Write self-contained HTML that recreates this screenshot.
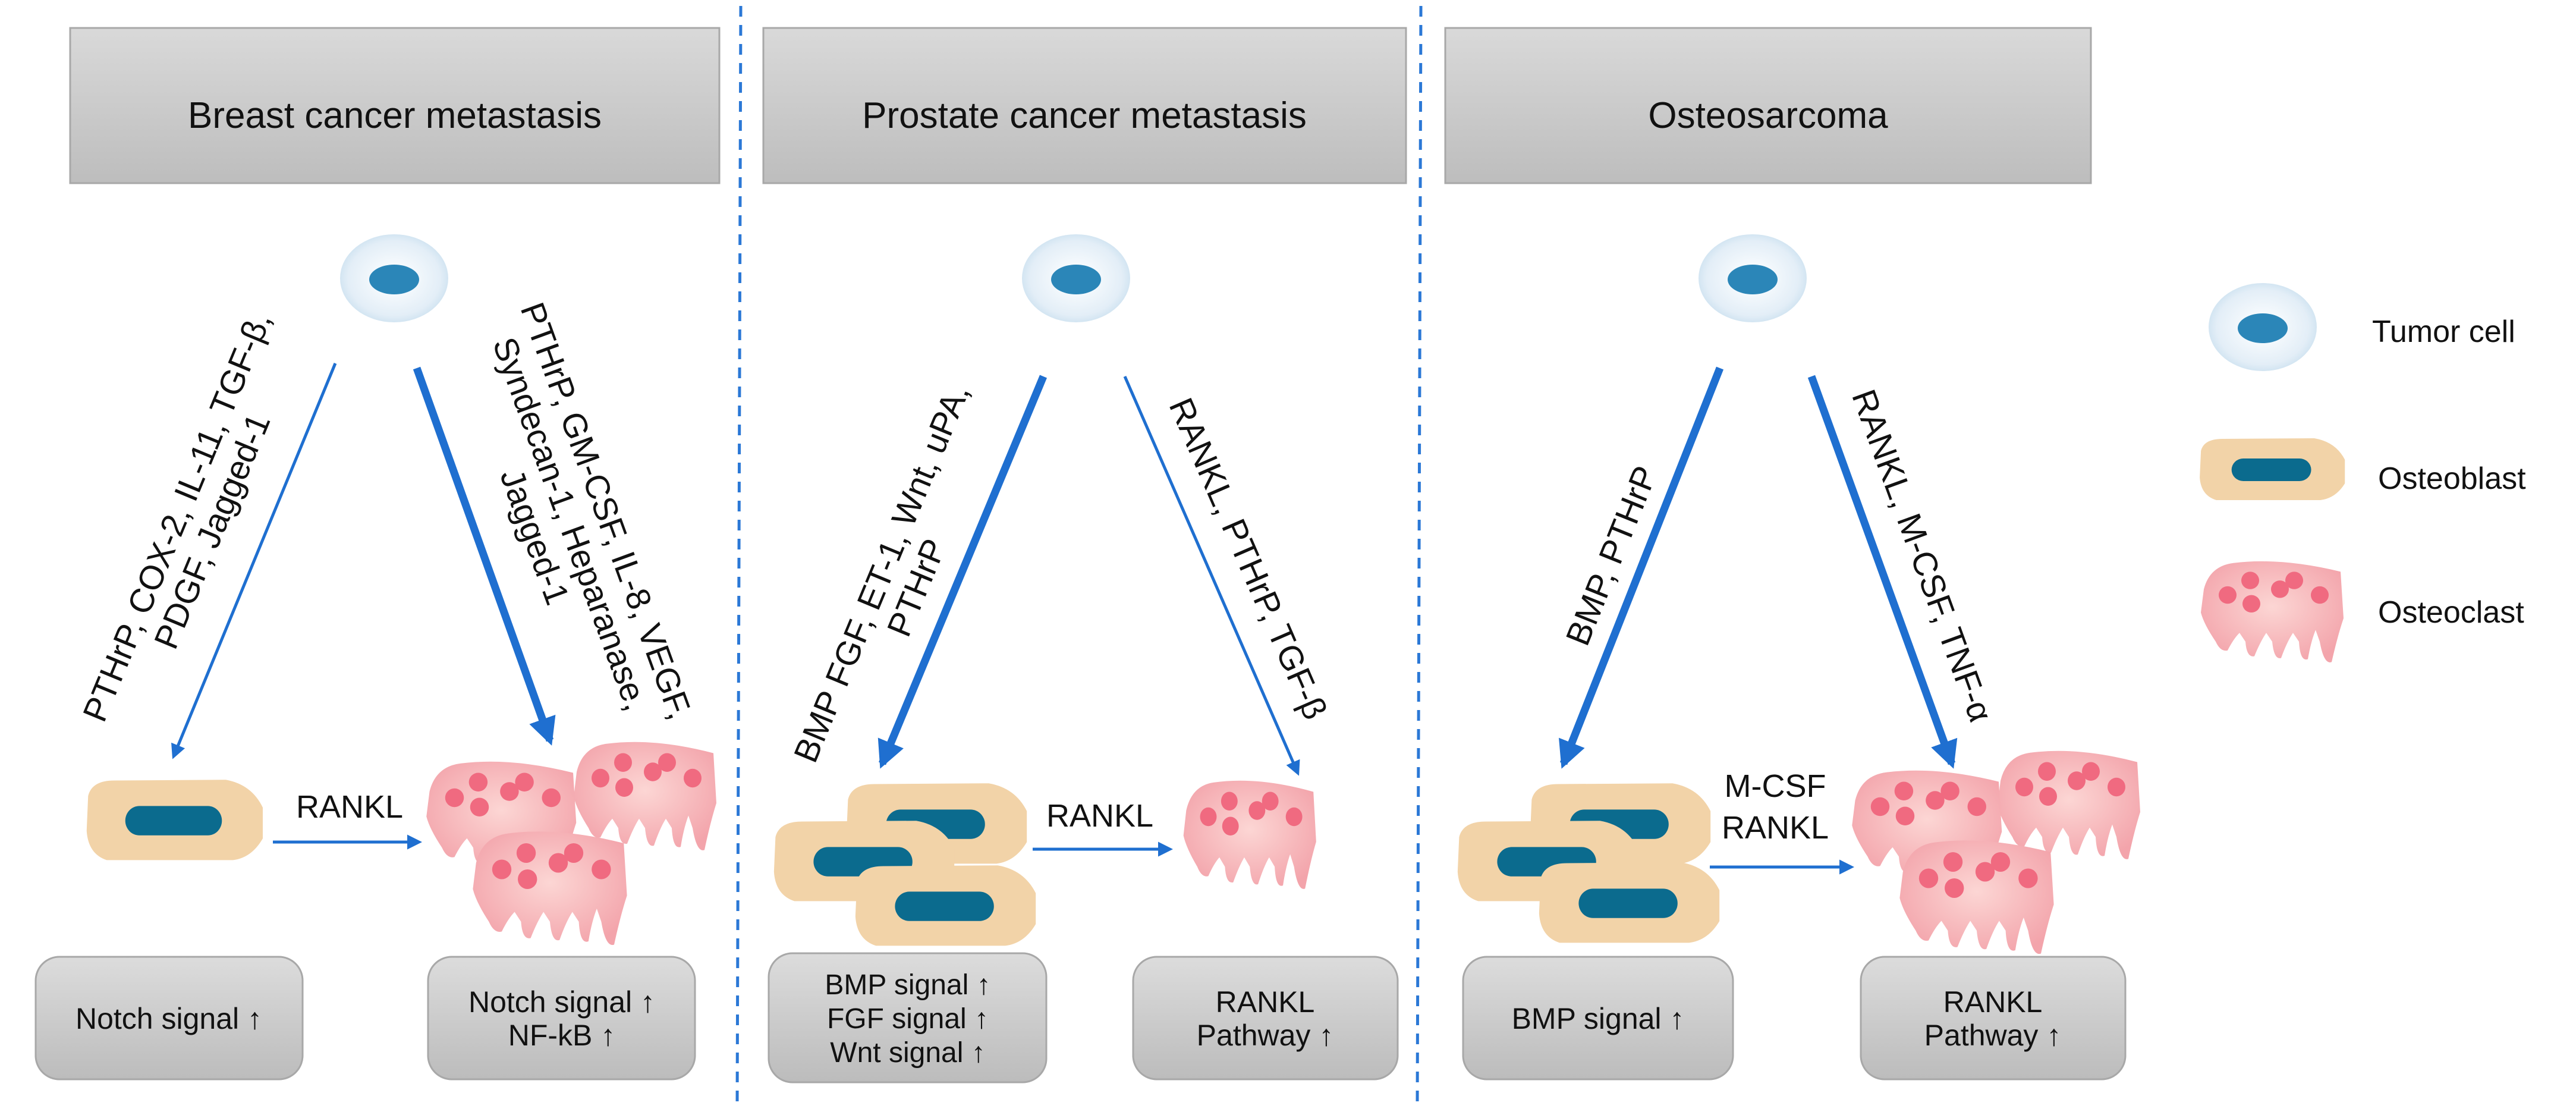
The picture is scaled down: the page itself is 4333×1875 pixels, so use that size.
<!DOCTYPE html>
<html><head><meta charset="utf-8"><style>
html,body{margin:0;padding:0;background:#fff}
svg{display:block}
text{font-family:"Liberation Sans",sans-serif;fill:#111}
</style></head><body>
<svg width="4333" height="1875" viewBox="0 0 4333 1875" xmlns="http://www.w3.org/2000/svg">
<defs>
<linearGradient id="hdr" x1="0" y1="0" x2="0" y2="1"><stop offset="0" stop-color="#d9d9d9"/><stop offset="1" stop-color="#bdbdbd"/></linearGradient>
<linearGradient id="bx" x1="0" y1="0" x2="0" y2="1"><stop offset="0" stop-color="#dcdcdc"/><stop offset="1" stop-color="#bcbcbc"/></linearGradient>
<radialGradient id="tc"><stop offset="0.3" stop-color="#f6fafd"/><stop offset="0.85" stop-color="#e3eef7"/><stop offset="1" stop-color="#d3e5f2"/></radialGradient>
<radialGradient id="oc" cx="0.5" cy="0.45" r="0.6"><stop offset="0" stop-color="#fcd6d4"/><stop offset="1" stop-color="#f3a4ab"/></radialGradient>
<marker id="ah" viewBox="0 0 10 10" refX="8" refY="5" markerWidth="5" markerHeight="5" orient="auto" markerUnits="strokeWidth"><path d="M0,0 L10,5 L0,10 z" fill="#1f6fd0"/></marker>
<marker id="ah2" viewBox="0 0 10 10" refX="8" refY="5" markerWidth="3.6" markerHeight="3.6" orient="auto" markerUnits="strokeWidth"><path d="M0,0 L10,5 L0,10 z" fill="#1f6fd0"/></marker>
<g id="tumor"><ellipse cx="0" cy="0" rx="91" ry="74" fill="url(#tc)"/><ellipse cx="0" cy="2" rx="42" ry="25" fill="#2b86b8"/></g>
<g id="ob"><path d="M5,25 Q10,5 40,5 L190,4 Q225,10 240,40 L240,80 Q225,105 200,108 L30,108 Q5,100 3,70 Z" fill="#f2d3a8"/><rect x="55" y="38" width="130" height="38" rx="19" fill="#0b6b8e"/></g>
<g id="oc1"><path d="M10,60 Q20,20 60,15 Q140,5 240,30 L245,110 Q235,140 225,185 Q212,190 205,150 L198,130 Q190,150 185,180 Q172,185 170,150 L160,135 Q150,150 140,178 Q128,182 125,150 L115,135 Q105,150 95,175 Q82,178 80,150 L70,135 Q60,145 50,165 Q38,168 30,150 Q10,120 5,100 Z" fill="url(#oc)"/>
<g fill="#f06a80"><circle cx="50" cy="70" r="15"/><circle cx="88" cy="45" r="15"/><circle cx="90" cy="85" r="15"/><circle cx="138" cy="60" r="15"/><circle cx="162" cy="45" r="15"/><circle cx="205" cy="70" r="15"/></g></g>
</defs>

<line x1="1246" y1="10" x2="1240" y2="1860" stroke="#2b78d6" stroke-width="5" stroke-dasharray="18,14"/>
<line x1="2390" y1="10" x2="2384" y2="1860" stroke="#2b78d6" stroke-width="5" stroke-dasharray="18,14"/>

<rect x="118" y="47" width="1092" height="261" fill="url(#hdr)" stroke="#a8a8a8" stroke-width="3"/>
<text x="664" y="215" font-size="62" text-anchor="middle">Breast cancer metastasis</text>
<rect x="1284" y="47" width="1081" height="261" fill="url(#hdr)" stroke="#a8a8a8" stroke-width="3"/>
<text x="1824" y="215" font-size="62" text-anchor="middle">Prostate cancer metastasis</text>
<rect x="2431" y="47" width="1086" height="261" fill="url(#hdr)" stroke="#a8a8a8" stroke-width="3"/>
<text x="2974" y="215" font-size="62" text-anchor="middle">Osteosarcoma</text>

<use href="#tumor" x="663" y="468"/>
<use href="#tumor" x="1810" y="468"/>
<use href="#tumor" x="2948" y="468"/>

<!-- Panel 1 -->
<line x1="564" y1="611" x2="292" y2="1272" stroke="#1f6fd0" stroke-width="5" marker-end="url(#ah)"/>
<line x1="701" y1="619" x2="925" y2="1245" stroke="#1f6fd0" stroke-width="13" marker-end="url(#ah2)"/>
<text transform="translate(325,880) rotate(-67.5)" font-size="57" text-anchor="middle"><tspan x="0" dy="-10">PTHrP, COX-2, IL-11, TGF-β,</tspan><tspan x="0" dy="64">PDGF, Jagged-1</tspan></text>
<text transform="translate(962,880) rotate(70)" font-size="57" text-anchor="middle"><tspan x="0" dy="-42">PTHrP, GM-CSF, IL-8, VEGF,</tspan><tspan x="0" dy="64">Syndecan-1, Heparanase,</tspan><tspan x="0" dy="64">Jagged-1</tspan></text>
<use href="#ob" transform="translate(142,1306) scale(1.25,1.3)"/>
<line x1="459" y1="1416" x2="705" y2="1416" stroke="#1f6fd0" stroke-width="5" marker-end="url(#ah)"/>
<text x="588" y="1375" font-size="54" text-anchor="middle">RANKL</text>
<use href="#oc1" transform="translate(960,1235) scale(1.0,1.05)"/>
<use href="#oc1" transform="translate(712,1268) scale(1.05,1.05)"/>
<use href="#oc1" transform="translate(790,1385) scale(1.08,1.1)"/>
<rect x="60" y="1609" width="449" height="206" rx="40" fill="url(#bx)" stroke="#a8a8a8" stroke-width="3"/>
<text x="284" y="1730" font-size="50" text-anchor="middle">Notch signal ↑</text>
<rect x="720" y="1609" width="449" height="206" rx="40" fill="url(#bx)" stroke="#a8a8a8" stroke-width="3"/>
<text x="945" y="1702" font-size="50" text-anchor="middle">Notch signal ↑</text>
<text x="945" y="1758" font-size="50" text-anchor="middle">NF-kB ↑</text>

<!-- Panel 2 -->
<line x1="1755" y1="633" x2="1484" y2="1284" stroke="#1f6fd0" stroke-width="13" marker-end="url(#ah2)"/>
<line x1="1892" y1="633" x2="2183" y2="1300" stroke="#1f6fd0" stroke-width="5" marker-end="url(#ah)"/>
<text transform="translate(1510,975) rotate(-67.5)" font-size="57" text-anchor="middle"><tspan x="0" dy="-10">BMP FGF, ET-1, Wnt, uPA,</tspan><tspan x="0" dy="64">PTHrP</tspan></text>
<text transform="translate(2098,940) rotate(66.5)" font-size="57" text-anchor="middle"><tspan x="0" dy="18">RANKL, PTHrP, TGF-β</tspan></text>
<use href="#ob" transform="translate(1420,1312) scale(1.28,1.3)"/>
<use href="#ob" transform="translate(1298,1375) scale(1.28,1.3)"/>
<use href="#ob" transform="translate(1435,1450) scale(1.28,1.3)"/>
<line x1="1737" y1="1428" x2="1968" y2="1428" stroke="#1f6fd0" stroke-width="5" marker-end="url(#ah)"/>
<text x="1850" y="1390" font-size="54" text-anchor="middle">RANKL</text>
<use href="#oc1" transform="translate(1986,1300) scale(0.93,1.05)"/>
<rect x="1293" y="1603" width="467" height="217" rx="40" fill="url(#bx)" stroke="#a8a8a8" stroke-width="3"/>
<text x="1527" y="1672" font-size="48" text-anchor="middle">BMP signal ↑</text>
<text x="1527" y="1729" font-size="48" text-anchor="middle">FGF signal ↑</text>
<text x="1527" y="1786" font-size="48" text-anchor="middle">Wnt signal ↑</text>
<rect x="1906" y="1609" width="445" height="206" rx="40" fill="url(#bx)" stroke="#a8a8a8" stroke-width="3"/>
<text x="2128" y="1702" font-size="50" text-anchor="middle">RANKL</text>
<text x="2128" y="1758" font-size="50" text-anchor="middle">Pathway ↑</text>

<!-- Panel 3 -->
<line x1="2893" y1="619" x2="2630" y2="1284" stroke="#1f6fd0" stroke-width="13" marker-end="url(#ah2)"/>
<line x1="3047" y1="633" x2="3283" y2="1284" stroke="#1f6fd0" stroke-width="13" marker-end="url(#ah2)"/>
<text transform="translate(2712,935) rotate(-68)" font-size="57" text-anchor="middle"><tspan x="0" dy="18">BMP, PTHrP</tspan></text>
<text transform="translate(3232,935) rotate(70)" font-size="57" text-anchor="middle"><tspan x="0" dy="18">RANKL, M-CSF, TNF-α</tspan></text>
<use href="#ob" transform="translate(2570,1312) scale(1.28,1.3)"/>
<use href="#ob" transform="translate(2448,1375) scale(1.28,1.3)"/>
<use href="#ob" transform="translate(2585,1445) scale(1.28,1.3)"/>
<line x1="2876" y1="1458" x2="3114" y2="1458" stroke="#1f6fd0" stroke-width="5" marker-end="url(#ah)"/>
<text x="2986" y="1340" font-size="54" text-anchor="middle">M-CSF</text>
<text x="2986" y="1410" font-size="54" text-anchor="middle">RANKL</text>
<use href="#oc1" transform="translate(3355,1250) scale(1.0,1.05)"/>
<use href="#oc1" transform="translate(3110,1283) scale(1.05,1.05)"/>
<use href="#oc1" transform="translate(3190,1400) scale(1.08,1.1)"/>
<rect x="2461" y="1609" width="454" height="206" rx="40" fill="url(#bx)" stroke="#a8a8a8" stroke-width="3"/>
<text x="2688" y="1730" font-size="50" text-anchor="middle">BMP signal ↑</text>
<rect x="3130" y="1609" width="445" height="206" rx="40" fill="url(#bx)" stroke="#a8a8a8" stroke-width="3"/>
<text x="3352" y="1702" font-size="50" text-anchor="middle">RANKL</text>
<text x="3352" y="1758" font-size="50" text-anchor="middle">Pathway ↑</text>

<!-- Legend -->
<use href="#tumor" x="3806" y="550"/>
<text x="3990" y="575" font-size="52">Tumor cell</text>
<use href="#ob" transform="translate(3697,733) scale(1.03,1.0)"/>
<text x="4000" y="822" font-size="52">Osteoblast</text>
<use href="#oc1" transform="translate(3697,932) scale(1.0,0.98)"/>
<text x="4000" y="1047" font-size="52">Osteoclast</text>
</svg>
</body></html>
